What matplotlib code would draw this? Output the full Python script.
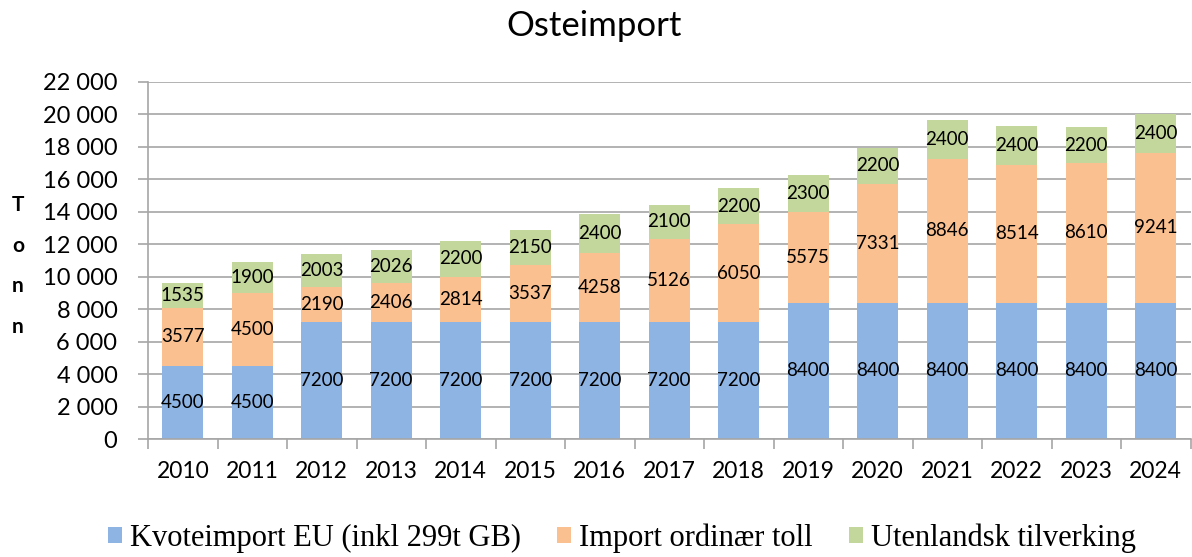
import matplotlib
matplotlib.use("Agg")
import matplotlib.pyplot as plt
import numpy as np
from matplotlib.ticker import FuncFormatter, MultipleLocator
from matplotlib.patches import Patch

years = ["2010", "2011", "2012", "2013", "2014", "2015", "2016", "2017",
         "2018", "2019", "2020", "2021", "2022", "2023", "2024"]
kvote = [4500, 4500, 7200, 7200, 7200, 7200, 7200, 7200, 7200,
         8400, 8400, 8400, 8400, 8400, 8400]
ordinaer = [3577, 4500, 2190, 2406, 2814, 3537, 4258, 5126, 6050,
            5575, 7331, 8846, 8514, 8610, 9241]
utenlandsk = [1535, 1900, 2003, 2026, 2200, 2150, 2400, 2100, 2200,
              2300, 2200, 2400, 2400, 2200, 2400]
series_names = ["Kvoteimport EU (inkl 299t GB)", "Import ordinær toll",
                "Utenlandsk tilverking"]
colors = ["#8EB4E3", "#FAC090", "#C3D69B"]

font = "Lato"
fig = plt.figure(figsize=(11.92, 5.57), dpi=100)
ax = fig.add_axes([148/1192, 1-439/557, (1190.5-148)/1192, (439-82)/557])

x = np.arange(len(years))
w = 0.595
bottom = np.zeros(len(years))
for vals, c in zip([kvote, ordinaer, utenlandsk], colors):
    vals = np.array(vals)
    ax.bar(x, vals, w, bottom=bottom, color=c, zorder=2, linewidth=0)
    for xi, b, v in zip(x, bottom, vals):
        ax.text(xi, b + v/2, str(v), ha="center", va="center",
                fontsize=13.5, family=font, color="black", zorder=3)
    bottom += vals

ax.set_xlim(-0.5, len(years) - 0.5)
ax.set_ylim(0, 22000)
ax.yaxis.set_major_locator(MultipleLocator(2000))
ax.yaxis.set_major_formatter(FuncFormatter(lambda v, p: f"{int(v):,}".replace(",", " ")))
ax.grid(axis="y", color="#A6A6A6", linewidth=1.2, zorder=0)
ax.set_axisbelow(True)

ax.set_xticks(x)
ax.set_xticklabels(years, family=font, fontsize=16.5)
ax.set_xticks(np.arange(-0.5, len(years)), minor=True)
ax.tick_params(axis="x", which="major", length=0, pad=16)
ax.tick_params(axis="x", which="minor", length=7, color="#A6A6A6", width=1.2)
ax.tick_params(axis="y", length=7, color="#A6A6A6", width=1.2, labelsize=17, pad=15)
for lab in ax.get_yticklabels():
    lab.set_family(font)

for s in ["top", "right"]:
    ax.spines[s].set_visible(False)
for s in ["left", "bottom"]:
    ax.spines[s].set_color("#A6A6A6")
    ax.spines[s].set_linewidth(1.2)

fig.text(594/1192, 1-26/557, "Osteimport", ha="center", va="center",
         fontsize=25, family=font)
fig.text(18/1192, 1-266/557, "T\no\nn\nn", ha="center", va="center",
         fontsize=15, family=font, fontweight="bold", linespacing=2.3)

handles = [Patch(facecolor=c, edgecolor="none") for c in colors]
fig.legend(handles, series_names, loc="center", bbox_to_anchor=(622/1192, 1-538/557),
           ncol=3, frameon=False, prop={"family": "Liberation Serif", "size": 22},
           handlelength=0.45, handleheight=0.45, handletextpad=0.25, columnspacing=1.2)

fig.savefig("out.png", dpi=100)
